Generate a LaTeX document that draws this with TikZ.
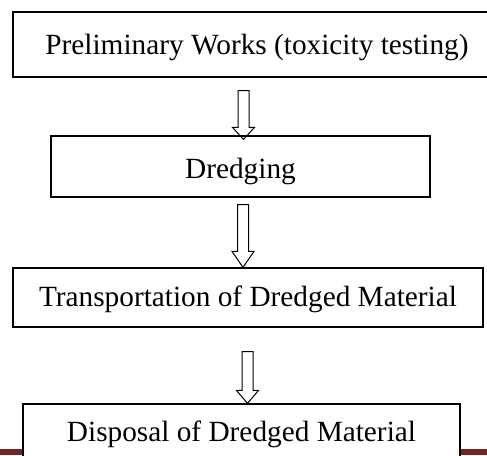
\documentclass[tikz,border=0pt]{standalone}
\usepackage{fontspec}
\setmainfont{Liberation Serif}
\usetikzlibrary{calc}
\definecolor{barred}{RGB}{112,36,36}
\tikzset{
  stagebox/.style={draw=black, line width=1.2pt, fill=white, rectangle, inner sep=0pt,
    font=\fontsize{29.3}{35}\selectfont},
  hollow/.style={draw=black, line width=1pt, line join=miter}
}
\newcommand\hollowarrow[6]{%
  \draw[hollow] let \p1=(#1.south), \p2=(#2.north) in
   ({#3pt-5.5pt},{\y1-#4pt}) -- ({#3pt+5.5pt},{\y1-#4pt}) --
   ({#3pt+5.5pt},{\y2-#6pt+#5pt}) -- ({#3pt+11pt},{\y2-#6pt+#5pt}) --
   ({#3pt},{\y2-#6pt}) -- ({#3pt-11pt},{\y2-#6pt+#5pt}) --
   ({#3pt-5.5pt},{\y2-#6pt+#5pt}) -- cycle;}
\begin{document}
\begin{tikzpicture}[x=1pt,y=1pt]
\useasboundingbox (0,0) rectangle (487,455);
\clip (0,0) rectangle (487,455);
\fill[white] (0,0) rectangle (487,455);
\fill[barred] (0,0) rectangle (487,6);
\node[stagebox, minimum width=488pt, minimum height=65pt, text height=21pt, text depth=0pt]
  (b1) at (257,410.5) {Preliminary Works (toxicity testing)};
\node[stagebox, minimum width=379pt, minimum height=61pt, text height=24pt, text depth=0pt]
  (b2) at (240.5,288.5) {Dredging};
\node[stagebox, minimum width=470pt, minimum height=59pt, text height=19pt, text depth=0pt]
  (b3) at (248,157.5) {Transportation of Dredged Material};
\node[stagebox, minimum width=437pt, minimum height=76pt, text height=10pt, text depth=10pt]
  (b4) at (241.5,13) {Disposal of Dredged Material};
\hollowarrow{b1}{b2}{243.5}{13}{12}{4}
\hollowarrow{b2}{b3}{243}{7}{16}{0}
\hollowarrow{b3}{b4}{247.5}{24}{13}{0}
\end{tikzpicture}
\end{document}
